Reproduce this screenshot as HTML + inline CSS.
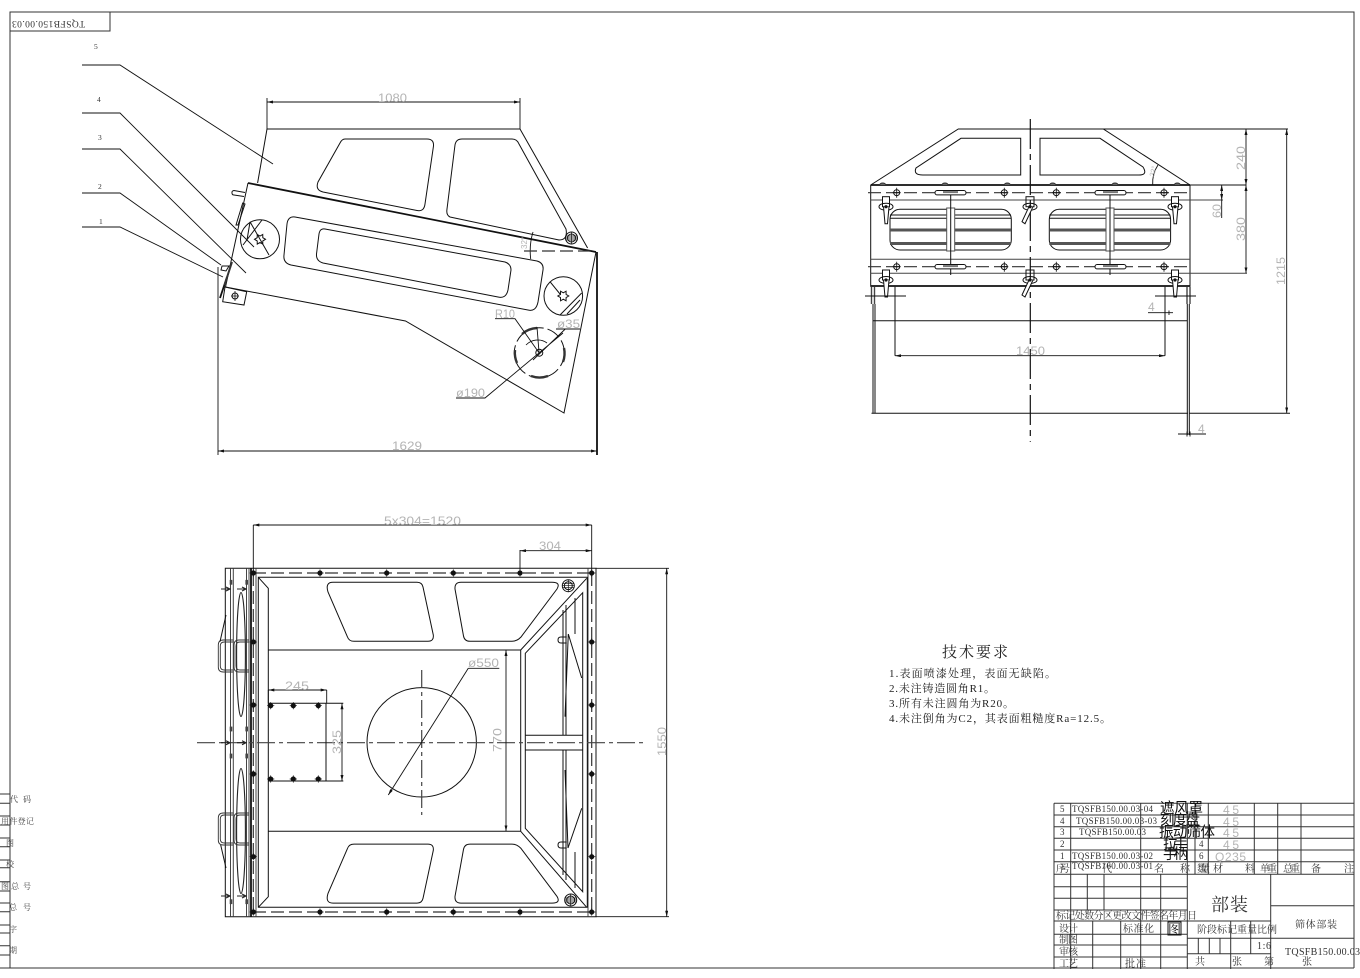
<!DOCTYPE html>
<html><head><meta charset="utf-8"><title>TQSFB150.00.03</title>
<style>
html,body{margin:0;padding:0;background:#fff;width:1360px;height:978px;overflow:hidden}
svg{display:block}
.l{fill:none;stroke:#111;stroke-width:1}
.t{stroke-width:1.8}
.c{fill:none;stroke:#444;stroke-width:1.2;stroke-dasharray:18 4 4 4}
.d{fill:none;stroke:#333;stroke-width:1.2;stroke-dasharray:13 5}
.g{font-family:"Liberation Sans",sans-serif;font-size:12px;fill:#b4b4b4}
.s{font-family:"Liberation Serif","Noto Serif CJK SC",serif;font-size:9.5px;fill:#333}
.z{font-family:"Liberation Serif","Noto Serif CJK SC",serif;fill:#111}
.k{font-family:"Liberation Sans","Noto Sans CJK SC",sans-serif;fill:#111}
.a{fill:none;stroke:#111;stroke-width:.9}
</style></head><body>
<svg width="1360" height="978" viewBox="0 0 1360 978" xmlns="http://www.w3.org/2000/svg">
<defs>
<marker id="a" markerUnits="userSpaceOnUse" markerWidth="6" markerHeight="3" refX="6" refY="1.5" orient="auto-start-reverse"><path d="M0 0L6 1.5L0 3z" fill="#111"/></marker>
<polygon id="star" points="5.5,0 2.8,1.6 2.75,4.8 0,3.2 -2.75,4.8 -2.8,1.6 -5.5,0 -2.8,-1.6 -2.75,-4.8 0,-3.2 2.75,-4.8 2.8,-1.6" fill="none" stroke="#111"/>
<g id="b"><circle r="2.6" fill="#111"/><path d="M-3.6 0H3.6M0 -3.6V3.6" stroke="#111" stroke-width=".7"/></g>
<g id="ob"><circle r="3" fill="none" stroke="#111"/><path d="M-4 0H4M0 -5V5" stroke="#111" stroke-width=".8"/></g>
<g id="rb"><circle r="6" fill="none" stroke="#111"/><circle r="4" fill="none" stroke="#111"/><path d="M-6 0H6M0 -6V6M-6 -2H6M-6 2H6" stroke="#111" stroke-width=".7"/></g>
<g id="sl"><rect x="0" y="-2.2" width="31" height="4.4" rx="2.2" fill="#fff" stroke="#111"/><rect x="8" y="-1.6" width="15" height="2" fill="#777"/></g>
<g id="cs"><rect x="-3.5" y="-10" width="7" height="10" fill="#fff" stroke="#111"/><ellipse rx="7" ry="3.5" fill="none" stroke="#111"/><path d="M-2.5 0L-1 17H1.5L3 0" fill="#fff" stroke="#111"/><circle r="1.6" fill="#111"/></g>
<g id="cl"><rect x="-4" y="-10" width="8" height="10" fill="none" stroke="#111"/><ellipse rx="7" ry="3.5" fill="none" stroke="#111"/><path d="M-1 0L-8 15L-5 17L3 0" fill="#fff" stroke="#111"/><circle r="1.6" fill="#111"/></g>
<g id="dm"><path d="M-3 0A3 2 0 0 1 3 0" fill="#666" stroke="#333"/></g>
<g id="h"><path d="M15 0H5Q0 0 0 5V27Q0 32 5 32H15M15 2H6Q2 2 2 6V26Q2 30 6 30H15" fill="none" stroke="#333" stroke-width=".9"/></g>
<path id="ar" d="M-5 0H3M0 -2L4 0L0 2" fill="none" stroke="#222" stroke-width="1.1"/>
<rect id="sq" x="-1.3" y="-2.4" width="2.6" height="4.8" fill="#444"/>
<g id="win">
<path class="l" d="M333 582.3H417Q422 582.3 423 587L433.3 635Q434 641.3 428 641.3H354Q349 641.3 347.5 637L328 592Q325 582.3 333 582.3Z"/>
<path class="l" d="M461 582.3H552Q561 582.3 557 589L521 637Q517 641.3 512 641.3H470Q464.5 641.3 463.5 636L455 589Q454.5 582.3 461 582.3Z"/>
</g>
</defs>

<!-- frame -->
<path class="l" style="stroke:#333" d="M10 968V12H1354V968M0 968H1354M10 31H110V12"/>
<text class="s" transform="translate(85 21) rotate(180)" textLength="73">TQSFB150.00.03</text>

<!-- side view -->
<path class="l" d="M257.6 183L267 129H520L587.6 248"/>
<path class="l t" d="M248 183L596 252"/>
<path class="l" d="M248 183L225.5 287L405.5 321L564 413L596 252"/>
<path class="l" d="M345 139H427Q434 139 433.5 146L425 204Q424 212 417 210.5L323 192Q315 190 318 182L340 143Q342 139 345 139Z"/>
<path class="l" d="M462 139H512Q517 139 519 144L566 229Q568 240 559 240L450 217Q446 215 447 209L455 145Q456 139 462 139Z"/>
<use href="#rb" x="571.5" y="238"/>
<path class="l" d="M295 217L537 261Q544 263 543 270L538 302Q536 312 528 310L291 265Q283 263 284 255L287 224Q288 216 295 217Z"/>
<path class="l" d="M325 229L505 262Q511 264 511 270L508 290Q506 299 498 297L323 263Q316 261 316.5 254L319 234Q320 228 325 229Z"/>
<circle class="l" cx="260" cy="239.3" r="19.5"/><use href="#star" x="260" y="239.3"/>
<path class="l" d="M250 221.7L269 255M262 220L243 245M250 222L247 240"/>
<circle class="l" cx="563.3" cy="296" r="19.3"/><use href="#star" x="563.3" y="296"/>
<path class="l" d="M550 281.7L560 294M581.7 293L560 315M580 300L567 314"/>
<circle class="l" cx="539.3" cy="352.7" r="25" stroke-dasharray="14 4"/>
<path fill="none" stroke="#333" stroke-width="2.4" d="M522 334A25 25 0 0 1 537 328M564 348A25 25 0 0 1 563 362M548 376A25 25 0 0 1 531 376M517 363A25 25 0 0 1 515 350"/>
<circle class="l" cx="539.3" cy="352.7" r="3.5"/>
<path class="a" d="M495 318.7H515L539 352.7M556 329H580M565.3 329L533 360M456 398H485L563 333M526 345A16 16 0 0 1 547 343M537 327L539 352"/>
<path class="a" d="M533 232Q529 245 530.7 259"/>
<path class="d" d="M524 251H595"/>
<text class="g" style="font-size:8px" transform="translate(527 249) rotate(-90)">32°</text>
<!-- handle items side -->
<path class="l" d="M245 192.5L234 190.5Q231.5 191 232 193Q232 195 234 195L244 196.5"/>
<path class="l" d="M236 225L242.7 203L245 204L238 225Z"/>
<path class="l" d="M225 287L246.7 291.7L244 305L222.7 301.7Z"/>
<use href="#ob" x="235" y="296"/>
<path class="l t" d="M220 298L227 277"/>
<path fill="none" stroke="#333" stroke-width="2" d="M224.5 285L232 262"/>
<path class="l" d="M222 266H229L226 271L221 270Z"/>
<!-- leaders -->
<path class="a" d="M82 65H120L273 164M82 113H120L254 247M82 149H120L246 273M82 193H120L221 265M82 227H120L223 277"/>
<g class="s" style="font-size:7.5px"><text x="94" y="49">5</text><text x="97" y="102">4</text><text x="98" y="140">3</text><text x="98" y="189">2</text><text x="99" y="224">1</text></g>
<!-- dims -->
<path class="a" d="M267 129V98M520 129V98"/>
<path class="a" marker-start="url(#a)" marker-end="url(#a)" d="M267 102H520"/>
<text class="g" x="378" y="102" textLength="29" lengthAdjust="spacingAndGlyphs">1080</text>
<path class="a" d="M218 267V455"/><path class="l t" d="M597 252V455"/>
<path class="a" marker-start="url(#a)" marker-end="url(#a)" d="M218 451H597"/>
<text class="g" x="392" y="450" textLength="30" lengthAdjust="spacingAndGlyphs">1629</text>
<text class="g" x="495" y="318" textLength="20" lengthAdjust="spacingAndGlyphs">R10</text>
<text class="g" x="557" y="328" textLength="23" lengthAdjust="spacingAndGlyphs">ø35</text>
<text class="g" x="456" y="397" textLength="29" lengthAdjust="spacingAndGlyphs">ø190</text>

<!-- plan view -->
<path class="l" d="M225.3 568.3H596V916.7H225.3Z"/>
<path class="l" style="stroke:#444" d="M230.5 568.3V916.7M233.3 568.3V916.7M246.5 568.3V916.7M249 568.3V916.7M256 568.3V916.7M588 568.3V916.7"/>
<path class="l t" d="M251 568.3V916.7"/>
<path class="l" d="M258.3 577.3H587.3V907.3H258.3ZM258.3 577.3L268.3 588.3V896.7L258.3 907.3"/>
<path class="d" d="M253 573H592M253 912H592M253.3 573V912M591.7 573V912"/>
<path class="l" d="M268.3 650H520.7V831.3H268.3M520.7 650L586.7 578.3M520.7 831.3L586.7 907.3"/>
<path class="l" d="M525.3 653.3L582.7 592.7V891.7L525.3 828.3ZM525.3 735.3H582.7M525.3 750H582.7"/>
<path class="l" d="M563 610V735M566 605V735M563 750V875M566 750V880M575 598V634M575 852V888"/>
<use href="#win"/>
<use href="#win" transform="translate(0 1485.4) scale(1 -1)"/>
<path class="l" d="M568.3 634L581.7 678M568.3 634L565 716.7M568 848L581.7 808.3M568 848L565 770"/>
<path class="l" d="M566.7 637H561Q558 637 558 640Q558 643 561 643H566.7M566.7 842H561Q558 842 558 845Q558 848 561 848H566.7"/>
<use href="#rb" x="568.3" y="585.7"/><use href="#rb" x="570.7" y="900"/>
<g>
<use href="#b" x="253.3" y="573"/><use href="#b" x="320" y="573"/><use href="#b" x="386.7" y="573"/><use href="#b" x="453.3" y="573"/><use href="#b" x="520" y="573"/><use href="#b" x="591.7" y="573"/>
<use href="#b" x="253.3" y="912"/><use href="#b" x="320" y="912"/><use href="#b" x="386.7" y="912"/><use href="#b" x="453.3" y="912"/><use href="#b" x="520" y="912"/><use href="#b" x="591.7" y="912"/>
<use href="#b" x="253.3" y="642"/><use href="#b" x="253.3" y="705"/><use href="#b" x="253.3" y="774"/><use href="#b" x="253.3" y="856.7"/>
<use href="#b" x="591.7" y="642"/><use href="#b" x="591.7" y="705"/><use href="#b" x="591.7" y="774"/><use href="#b" x="591.7" y="856.7"/>
<use href="#b" x="270.7" y="705.7"/><use href="#b" x="293.3" y="705.7"/><use href="#b" x="318.3" y="705.7"/>
<use href="#b" x="270.7" y="779"/><use href="#b" x="293.3" y="779"/><use href="#b" x="318.3" y="779"/>
</g>
<circle class="l" cx="421.7" cy="742.3" r="54.7"/>
<path class="c" d="M197 742.7H645"/>
<path class="c" d="M421.7 670V815"/>
<path class="a" d="M499.3 668.3H468.3"/>
<path class="a" marker-end="url(#a)" d="M468.3 668.3L388.3 795"/>
<path class="l" d="M268.3 703.3H343.3M268.3 781H343.3M326 703.3V781"/>
<path class="a" d="M268.3 690V703M326.7 690V703"/>
<path class="a" marker-start="url(#a)" marker-end="url(#a)" d="M268.3 690H326.7"/>
<path class="a" marker-start="url(#a)" marker-end="url(#a)" d="M342 703.3V781"/>
<path class="a" marker-start="url(#a)" marker-end="url(#a)" d="M506 650V831.3"/>
<path class="a" d="M253.3 525V573M591.7 525V573M520 550V573"/>
<path class="a" marker-start="url(#a)" marker-end="url(#a)" d="M253.3 525H591.7"/>
<path class="a" marker-start="url(#a)" marker-end="url(#a)" d="M520 550.7H591.7"/>
<path class="a" d="M596 568.3H669M596 916.7H669"/>
<path class="a" marker-start="url(#a)" marker-end="url(#a)" d="M666.7 568.3V916.7"/>
<text class="g" x="384" y="525" textLength="77" lengthAdjust="spacingAndGlyphs">5x304=1520</text>
<text class="g" x="539" y="550" textLength="22" lengthAdjust="spacingAndGlyphs">304</text>
<text class="g" x="285" y="690" textLength="24" lengthAdjust="spacingAndGlyphs">245</text>
<text class="g" x="468" y="667" textLength="31" lengthAdjust="spacingAndGlyphs">ø550</text>
<text class="g" transform="translate(341 754) rotate(-90)" textLength="24" lengthAdjust="spacingAndGlyphs">325</text>
<text class="g" transform="translate(501.5 752) rotate(-90)" textLength="24" lengthAdjust="spacingAndGlyphs">770</text>
<text class="g" transform="translate(666 756) rotate(-90)" textLength="29" lengthAdjust="spacingAndGlyphs">1550</text>
<!-- plan left details -->
<ellipse cx="241" cy="654.5" rx="4.4" ry="62" fill="none" stroke="#222" stroke-width="1.1"/>
<ellipse cx="241" cy="831" rx="4.4" ry="62.5" fill="none" stroke="#222" stroke-width="1.1"/>
<use href="#h" x="218.3" y="640"/><use href="#h" x="234" y="640"/>
<use href="#h" x="218.3" y="813"/><use href="#h" x="234" y="813"/>
<path class="l" d="M226 615L220 641.7M220.7 845L226 868"/>
<g>
<use href="#ar" x="226" y="589"/><use href="#ar" x="242" y="589"/><use href="#ar" x="226" y="742.7"/><use href="#ar" x="242" y="742.7"/><use href="#ar" x="226" y="896"/><use href="#ar" x="242" y="896"/>
<use href="#sq" x="231" y="582.3"/><use href="#sq" x="246.7" y="582.3"/><use href="#sq" x="231" y="729"/><use href="#sq" x="246.7" y="729"/><use href="#sq" x="231" y="756"/><use href="#sq" x="246.7" y="756"/><use href="#sq" x="231" y="901.7"/><use href="#sq" x="246.7" y="901.7"/>
</g>

<!-- front view -->
<path class="l" d="M870.7 185L958.3 129H1103.3L1190 185"/>
<path class="l t" d="M870.7 185H1190"/>
<path class="l" d="M1103.3 129H1288M1190 185H1246"/>
<path class="l" d="M961 138.3H1020.7V175H923Q913 175 916 168ZM1040 138.3H1100L1143 167Q1148 175 1139 175H1040Z"/>
<path class="l" d="M870.7 185V286.7M1190 185V286.7"/>
<path class="l" style="stroke:#444" d="M870.7 200H1223M870.7 259.3H1190M870.7 273.3H1247"/>
<path class="l t" d="M870.7 286H1190"/>
<path class="d" d="M868 192.7H1190"/><path class="d" d="M868 266.7H1190"/>
<g id="wl">
<rect class="l" x="890" y="209.3" width="121.3" height="40.7" rx="10"/>
<path fill="none" stroke="#111" d="M890 215H1011M890 218.3H1011"/>
<path fill="none" stroke="#555" stroke-width="3" d="M890 230H1011M890 243.5H1011"/>
<rect x="946.7" y="208" width="8" height="43" fill="#fff" stroke="#555"/>
</g>
<use href="#wl" transform="translate(159.3 0)"/>
<path class="l" d="M950.7 190V275M1110 190V275"/>
<use href="#dm" x="882.7" y="185"/><use href="#dm" x="945" y="185"/><use href="#dm" x="1007.3" y="185"/><use href="#dm" x="1052.7" y="185"/><use href="#dm" x="1115" y="185"/><use href="#dm" x="1177.3" y="185"/>
<g>
<use href="#ob" x="896.7" y="192.7"/><use href="#ob" x="1004.3" y="192.7"/><use href="#ob" x="1056.3" y="192.7"/><use href="#ob" x="1164" y="192.7"/>
<use href="#ob" x="896.7" y="266.7"/><use href="#ob" x="1004.3" y="266.7"/><use href="#ob" x="1056.3" y="266.7"/><use href="#ob" x="1164" y="266.7"/>
<use href="#sl" x="935" y="192.7"/><use href="#sl" x="1095" y="192.7"/><use href="#sl" x="935" y="266.7"/><use href="#sl" x="1095" y="266.7"/>
</g>
<path fill="none" stroke="#111" stroke-width="1.2" stroke-dasharray="30 5 6 5" d="M1030.3 119V441.7"/>
<use href="#cs" x="886" y="206.7"/><use href="#cs" x="1175" y="206.7"/><use href="#cl" x="1030" y="206.7"/>
<use href="#cs" x="886" y="280"/><use href="#cs" x="1175" y="280"/><use href="#cl" x="1030" y="280"/>
<path class="l" d="M873 304V413.3M875 304V413.3M871.5 413.3H1188M873.3 320.7H1187.3M1187.3 304V435M1189.3 304V435"/>
<path fill="none" stroke="#444" stroke-width="1.4" d="M871.5 286.7V304M874.5 286.7V304M1187 286.7V304M1190 286.7V304"/>
<path class="l" d="M895 286.7V355.7M1165 286.7V355.7M865 296H906M1155 296H1196M1290 413.3H1189"/>
<path class="a" marker-start="url(#a)" marker-end="url(#a)" d="M895 355.7H1165"/>
<path class="a" d="M1148 312.7H1173M1165 310.5V315M1169 310.5V315"/>
<path class="a" d="M1178 434H1206M1187 431.5V436.5M1190 431.5V436.5"/>
<path class="a" marker-start="url(#a)" marker-end="url(#a)" d="M1246 129V185"/>
<path class="a" marker-start="url(#a)" marker-end="url(#a)" d="M1246 185V273.3"/>
<path class="a" marker-start="url(#a)" marker-end="url(#a)" d="M1221.7 185V200"/><path class="a" d="M1221.7 200V218"/>
<path class="a" marker-start="url(#a)" marker-end="url(#a)" d="M1286.7 129V413.3"/>
<path class="a" d="M1158 165Q1152 174 1152.7 185"/>
<text class="g" x="1016" y="355" textLength="29" lengthAdjust="spacingAndGlyphs">1450</text>
<text class="g" x="1148" y="311">4</text><text class="g" x="1198" y="433">4</text>
<text class="g" transform="translate(1245 170) rotate(-90)" textLength="24" lengthAdjust="spacingAndGlyphs">240</text>
<text class="g" transform="translate(1245 241) rotate(-90)" textLength="24" lengthAdjust="spacingAndGlyphs">380</text>
<text class="g" transform="translate(1221 218) rotate(-90)" textLength="14" lengthAdjust="spacingAndGlyphs">60</text>
<text class="g" transform="translate(1285 285) rotate(-90)" textLength="28" lengthAdjust="spacingAndGlyphs">1215</text>
<text class="g" style="font-size:7px" transform="translate(1154 177) rotate(-75)">32°</text>

<!-- notes -->
<text class="z" x="942" y="657" style="font-size:15px;fill:#222" textLength="66">技术要求</text>
<g class="z" style="font-size:11px;fill:#222">
<text x="889" y="677" textLength="167">1.表面喷漆处理，表面无缺陷。</text>
<text x="889" y="692" textLength="106">2.未注铸造圆角R1。</text>
<text x="889" y="707" textLength="125">3.所有未注圆角为R20。</text>
<text x="889" y="722" textLength="222">4.未注倒角为C2，其表面粗糙度Ra=12.5。</text>
</g>

<!-- title block -->
<path class="l" style="stroke:#333" d="M1054 803.3H1354M1054 815H1354M1054 826.7H1354M1054 838.3H1354M1054 850H1354M1054 861.7H1354M1054 874.3H1354M1054 886.7H1187.3M1054 898.3H1187.3M1054 910H1187.3M1054 921H1270.7M1054 934.3H1187.3M1054 945H1187.3M1054 957H1187.3M1270.7 905.7H1354M1187.3 938.3H1354M1187.3 953.7H1270.7"/>
<path class="l" style="stroke:#333" d="M1054 803.3V969M1070.7 803.3V969M1140.7 803.3V969M1160.7 874.3V969M1187.3 803.3V969M1195 803.3V874.3M1208.3 803.3V874.3M1254.3 803.3V874.3M1277.7 803.3V874.3M1301 803.3V874.3M1087.3 874.3V910M1104 874.3V910M1092.7 921V969M1120.7 921V969M1270.7 874.3V969M1198.3 938.3V953.7M1209.3 938.3V953.7M1220 938.3V953.7M1230.7 921V969M1250.7 921V953.7"/>
<g class="s" style="font-size:9px">
<text x="1060" y="812">5</text><text x="1060" y="824">4</text><text x="1060" y="835">3</text><text x="1060" y="847">2</text><text x="1060" y="859">1</text>
<text x="1072" y="812" textLength="81">TQSFB150.00.03-04</text>
<text x="1076" y="824" textLength="81">TQSFB150.00.03-03</text>
<text x="1079" y="835" textLength="67">TQSFB150.00.03</text>
<text x="1072" y="859" textLength="81">TQSFB150.00.03-02</text>
<text x="1072" y="869" textLength="81">TQSFB160.00.03-01</text>
<text x="1199" y="847">4</text><text x="1199" y="859">6</text>
</g>
<g class="k" style="font-size:14.5px">
<text x="1160" y="813" textLength="43">遮风罩</text>
<text x="1160" y="825" textLength="40">刻度盘</text>
<text x="1159" y="837" textLength="56">振动筛体</text>
<text x="1163" y="849" textLength="25">拉手</text>
<text x="1163" y="859" textLength="25">手柄</text>
</g>
<g class="g" style="font-size:12px">
<text x="1223" y="814" textLength="16">45</text><text x="1223" y="826" textLength="16">45</text><text x="1223" y="837" textLength="16">45</text><text x="1223" y="849" textLength="16">45</text><text x="1215" y="861" textLength="31">Q235</text>
</g>
<g class="s" style="font-size:10px">
<text x="1056" y="872" textLength="14">序号</text><text x="1102" y="872">代</text><text x="1154" y="872">名</text><text x="1180" y="872">称</text>
<text x="1197" y="872" textLength="13">数量</text><text x="1213" y="872">材</text><text x="1245" y="872">料</text>
<text x="1260" y="872" textLength="17">单重</text><text x="1283" y="872" textLength="17">总重</text><text x="1311" y="872">备</text><text x="1344" y="872">注</text>
<text x="1056" y="919" textLength="141">标记处数分区更改文件签名年月日</text>
<text x="1059" y="932" textLength="19">设计</text><text x="1123" y="932" textLength="31">标准化</text>
<text x="1059" y="943" textLength="19">制图</text><text x="1059" y="955" textLength="19">审核</text><text x="1059" y="967" textLength="19">工艺</text>
<text x="1125" y="967" textLength="21">批准</text>
<text x="1197" y="933" textLength="80">阶段标记重量比例</text>
<text x="1257" y="949" textLength="14">1:6</text>
<text x="1195" y="965">共</text><text x="1232" y="965">张</text><text x="1264" y="965">第</text><text x="1302" y="965">张</text>
<text x="1295" y="928" textLength="42">筛体部装</text>
<text x="1285" y="955" textLength="75">TQSFB150.00.03</text>
</g>
<rect x="1168" y="922" width="13" height="13" class="l"/><text class="z" x="1168" y="934" style="font-size:13px">图</text>
<text class="z" x="1211" y="911" style="font-size:18px;fill:#333" textLength="37">部装</text>

<!-- left margin -->
<path class="l" style="stroke:#333" d="M0 794H10M0 803.3H10M0 816H10M0 825H10M0 838H10M0 846.7H10M0 860H10M0 867.7H10M0 881.7H10M0 891H10M0 903H10M0 911.7H10M0 925H10M0 933H10M0 945.7H10M0 955H10"/>
<g class="s" style="font-size:8px;fill:#444">
<text x="10" y="802">代</text><text x="23" y="802">码</text>
<text x="1" y="824" textLength="33">用件登记</text>
<text x="6" y="846">图</text><text x="6" y="867">校</text>
<text x="1" y="889">图</text><text x="11" y="889">总</text><text x="23" y="889">号</text>
<text x="9" y="910">总</text><text x="23" y="910">号</text>
<text x="9" y="932">字</text><text x="9" y="953">期</text>
</g>
</svg>
</body></html>
